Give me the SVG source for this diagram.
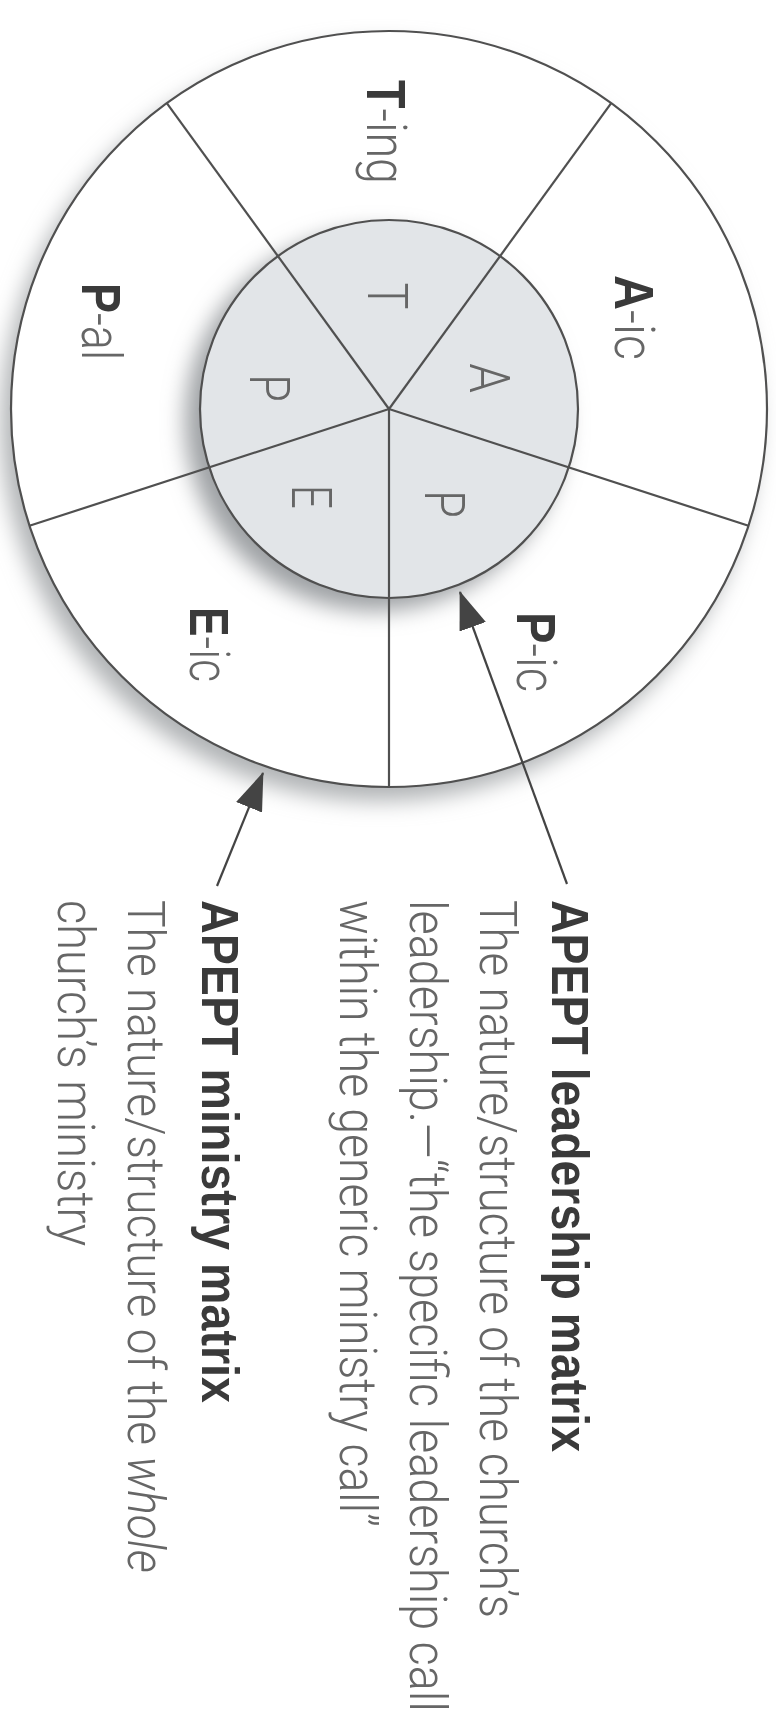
<svg xmlns="http://www.w3.org/2000/svg" width="776" height="1731" viewBox="0 0 776 1731">
<style>
  .t { font-family: "Roboto", "Liberation Sans", Arial, sans-serif; font-weight: 300; }
  .b { font-family: "Liberation Sans", Arial, sans-serif; font-weight: bold; fill: #3a3a3a; }
  .lbl { font-size: 56px; fill: #666; }
  .inn { font-size: 56px; fill: #666; }
  .body { font-size: 52px; fill: #666; }
  .head { font-family: "Liberation Sans", Arial, sans-serif; font-size: 52px; font-weight: bold; fill: #3a3a3a; }
  .ln { stroke: #505050; stroke-width: 2.2; fill: none; }
  .arr { stroke: #444; stroke-width: 2.2; fill: none; marker-end: url(#ah); }
</style>
<defs>
  <filter id="blur" x="-20%" y="-20%" width="140%" height="140%">
    <feGaussianBlur stdDeviation="11"/>
  </filter>
  <marker id="ah" markerUnits="userSpaceOnUse" viewBox="0 0 38 28" refX="37" refY="14" markerWidth="38" markerHeight="28" orient="auto">
    <path d="M0,0 L38,14 L0,28 z" fill="#444"/>
  </marker>
</defs>
<rect width="776" height="1731" fill="#ffffff"/>

<g id="outer-ring">
  <circle cx="379" cy="423" r="378" fill="#b0b3b5" filter="url(#blur)"/>
  <circle cx="389" cy="409" r="378" fill="#ffffff"/>
</g>
<g id="inner-circle">
  <circle cx="375" cy="421" r="190" fill="#9ea1a4" filter="url(#blur)"/>
  <circle cx="389" cy="409" r="189" fill="#e2e5e8"/>
</g>
<g id="spokes">
  <line class="ln" x1="389" y1="409" x2="389" y2="787"/>
  <line class="ln" x1="389" y1="409" x2="748.5" y2="525.8"/>
  <line class="ln" x1="389" y1="409" x2="611.2" y2="103.2"/>
  <line class="ln" x1="389" y1="409" x2="166.8" y2="103.2"/>
  <line class="ln" x1="389" y1="409" x2="29.5" y2="525.8"/>
  <circle class="ln" cx="389" cy="409" r="189"/>
  <circle class="ln" cx="389" cy="409" r="378"/>
</g>

<g id="label-T-ing">
  <text class="t lbl" transform="translate(367,80) rotate(90)" textLength="104" lengthAdjust="spacingAndGlyphs"><tspan class="b">T</tspan>-ing</text>
</g>
<g id="label-A-ic">
  <text class="t lbl" transform="translate(615,275) rotate(90)" textLength="85" lengthAdjust="spacingAndGlyphs"><tspan class="b">A</tspan>-ic</text>
</g>
<g id="label-P-ic">
  <text class="t lbl" transform="translate(517,612) rotate(90)" textLength="80" lengthAdjust="spacingAndGlyphs"><tspan class="b">P</tspan>-ic</text>
</g>
<g id="label-E-ic">
  <text class="t lbl" transform="translate(190,607) rotate(90)" textLength="75" lengthAdjust="spacingAndGlyphs"><tspan class="b">E</tspan>-ic</text>
</g>
<g id="label-P-al">
  <text class="t lbl" transform="translate(82,283) rotate(90)" textLength="77" lengthAdjust="spacingAndGlyphs"><tspan class="b">P</tspan>-al</text>
</g>

<g id="inner-T"><text class="t inn" text-anchor="middle" transform="translate(368,296) rotate(90) scale(0.8,1)">T</text></g>
<g id="inner-A"><text class="t inn" text-anchor="middle" transform="translate(470,378) rotate(90) scale(0.85,1)">A</text></g>
<g id="inner-P1"><text class="t inn" text-anchor="middle" transform="translate(425,504) rotate(90) scale(0.8,1)">P</text></g>
<g id="inner-E"><text class="t inn" text-anchor="middle" transform="translate(292,497) rotate(90) scale(0.75,1)">E</text></g>
<g id="inner-P2"><text class="t inn" text-anchor="middle" transform="translate(250,388) rotate(90) scale(0.8,1)">P</text></g>

<g id="connectors">
  <line class="arr" x1="567" y1="884" x2="460" y2="592"/>
  <line class="arr" x1="217" y1="886" x2="263" y2="773"/>
</g>

<g id="leadership-note">
  <text class="head" transform="translate(552,900) rotate(90)" textLength="552" lengthAdjust="spacingAndGlyphs">APEPT leadership matrix</text>
  <text class="t body" transform="translate(480,900) rotate(90)" textLength="718" lengthAdjust="spacingAndGlyphs">The nature/structure of the church’s</text>
  <text class="t body" transform="translate(410,900) rotate(90) scale(0.85,1)" textLength="955" lengthAdjust="spacingAndGlyphs">leadership.—“the specific leadership call</text>
  <text class="t body" transform="translate(340,900) rotate(90)" textLength="627" lengthAdjust="spacingAndGlyphs">within the generic ministry call”</text>
</g>
<g id="ministry-note">
  <text class="head" transform="translate(202,900) rotate(90)" textLength="503" lengthAdjust="spacingAndGlyphs">APEPT ministry matrix</text>
  <text class="t body" transform="translate(128,900) rotate(90)" textLength="673" lengthAdjust="spacingAndGlyphs">The nature/structure of the <tspan font-style="italic">whole</tspan></text>
  <text class="t body" transform="translate(58,900) rotate(90)" textLength="346" lengthAdjust="spacingAndGlyphs">church’s ministry</text>
</g>
</svg>
